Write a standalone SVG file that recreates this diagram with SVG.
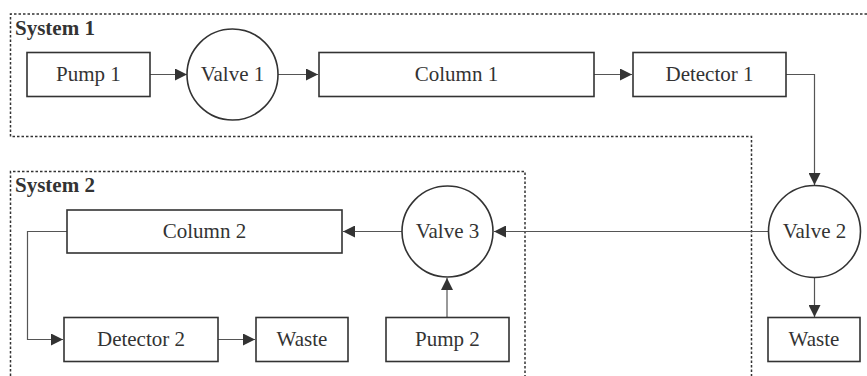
<svg xmlns="http://www.w3.org/2000/svg" width="867" height="376" viewBox="0 0 867 376">
<style>
.box{fill:#fff;stroke:#333;stroke-width:1.6}
.lbl{font-family:"Liberation Serif","Times New Roman",serif;font-size:21px;fill:#333;text-anchor:middle}
.sys{font-family:"Liberation Serif","Times New Roman",serif;font-size:21px;font-weight:bold;fill:#333}
.bnd{fill:none;stroke:#333;stroke-width:1.5;stroke-dasharray:2.5 2}
.con{fill:none;stroke:#555;stroke-width:1.2}
</style>
<defs>
<marker id="ah" viewBox="0 0 10 10" refX="10" refY="5" markerWidth="12" markerHeight="12" markerUnits="userSpaceOnUse" orient="auto">
<path d="M0,0 L10,5 L0,10 Z" fill="#333"/>
</marker>
</defs>
<g id="boundaries">
<path class="bnd" d="M867,14 H10.5 V136.5 H751.5 V376"/>
<path class="bnd" d="M10.5,376 V171.5 H525 V376"/>
<text class="sys" x="15" y="35">System 1</text>
<text class="sys" x="15" y="192">System 2</text>
</g>
<g id="connectors">
<path class="con" d="M150,74.5 H187" marker-end="url(#ah)"/>
<path class="con" d="M278,74.5 H318" marker-end="url(#ah)"/>
<path class="con" d="M594,74.5 H632" marker-end="url(#ah)"/>
<path class="con" d="M786,74.5 H814.5 V185" marker-end="url(#ah)"/>
<path class="con" d="M814.5,278 V317" marker-end="url(#ah)"/>
<path class="con" d="M768,231.5 H494" marker-end="url(#ah)"/>
<path class="con" d="M402,231.5 H343" marker-end="url(#ah)"/>
<path class="con" d="M447,317 V278" marker-end="url(#ah)"/>
<path class="con" d="M67,231.5 H27.5 V339.5 H63" marker-end="url(#ah)"/>
<path class="con" d="M218,339.5 H255" marker-end="url(#ah)"/>
</g>
<g id="pump1"><rect class="box" x="27" y="52.5" width="123" height="44"/><text class="lbl" x="88.5" y="81">Pump 1</text></g>
<g id="valve1"><circle class="box" cx="232.5" cy="74.5" r="45.5"/><text class="lbl" x="232.5" y="81">Valve 1</text></g>
<g id="column1"><rect class="box" x="319" y="52.5" width="275" height="44"/><text class="lbl" x="456.5" y="81">Column 1</text></g>
<g id="detector1"><rect class="box" x="633" y="52.5" width="153" height="44"/><text class="lbl" x="709.5" y="81">Detector 1</text></g>
<g id="valve2"><circle class="box" cx="814.5" cy="231.5" r="46"/><text class="lbl" x="814.5" y="238">Valve 2</text></g>
<g id="waste1"><rect class="box" x="768" y="317.5" width="92" height="44"/><text class="lbl" x="814" y="346">Waste</text></g>
<g id="valve3"><circle class="box" cx="447.5" cy="231.5" r="45.5"/><text class="lbl" x="447.5" y="238">Valve 3</text></g>
<g id="pump2"><rect class="box" x="386" y="317.5" width="123" height="44"/><text class="lbl" x="447.5" y="346">Pump 2</text></g>
<g id="column2"><rect class="box" x="67" y="210" width="275" height="43"/><text class="lbl" x="204.5" y="238">Column 2</text></g>
<g id="detector2"><rect class="box" x="64" y="317.5" width="154" height="44"/><text class="lbl" x="141" y="346">Detector 2</text></g>
<g id="waste2"><rect class="box" x="256" y="317.5" width="92" height="44"/><text class="lbl" x="302" y="346">Waste</text></g>
</svg>
